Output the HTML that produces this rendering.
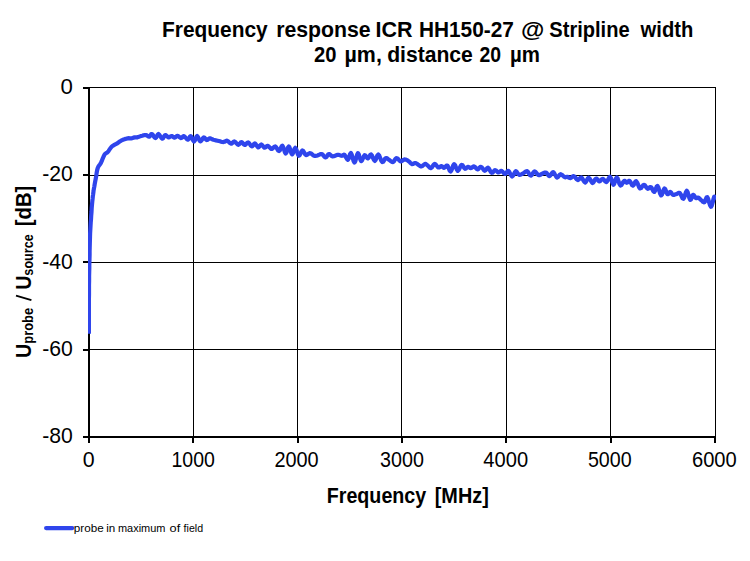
<!DOCTYPE html>
<html><head><meta charset="utf-8"><title>Frequency response</title>
<style>
html,body{margin:0;padding:0;background:#fff;}
body{width:750px;height:561px;overflow:hidden;position:relative;font-family:"Liberation Sans",sans-serif;color:#000;}
svg{position:absolute;left:0;top:0;display:block;}
text{font-family:"Liberation Sans",sans-serif;fill:#000;}
</style></head><body>
<svg width="750" height="561" viewBox="0 0 750 561">
<rect x="0" y="0" width="750" height="561" fill="#ffffff"/>
<g shape-rendering="crispEdges" fill="#000">
<!-- gridlines vertical -->
<rect x="193" y="87" width="1" height="350"/>
<rect x="297" y="87" width="1" height="350"/>
<rect x="401" y="87" width="1" height="350"/>
<rect x="506" y="87" width="1" height="350"/>
<rect x="610" y="87" width="1" height="350"/>
<rect x="715" y="87" width="1" height="351"/>
<!-- gridlines horizontal -->
<rect x="88" y="87" width="628" height="1"/>
<rect x="88" y="175" width="628" height="1"/>
<rect x="88" y="262" width="628" height="1"/>
<rect x="88" y="349" width="628" height="1"/>
<!-- axes -->
<rect x="88" y="87" width="2" height="356"/>
<rect x="83" y="436" width="633" height="2"/>
<!-- y ticks -->
<rect x="83" y="87" width="6" height="2"/>
<rect x="83" y="174" width="6" height="2"/>
<rect x="83" y="261" width="6" height="2"/>
<rect x="83" y="349" width="6" height="2"/>
<!-- x ticks -->
<rect x="192" y="436" width="2" height="7"/>
<rect x="297" y="436" width="2" height="7"/>
<rect x="401" y="436" width="2" height="7"/>
<rect x="505" y="436" width="2" height="7"/>
<rect x="610" y="436" width="2" height="7"/>
<rect x="714" y="436" width="2" height="7"/>
</g>
<!-- data series -->
<clipPath id="plotclip"><rect x="88" y="80" width="628.0" height="360"/></clipPath>
<path d="M88.9,333.8 L88.9,329.4 L88.9,323.2 L88.9,316.2 L88.9,310.0 L88.9,304.7 L88.9,299.6 L89.0,294.8 L89.0,290.0 L89.0,285.3 L89.1,280.6 L89.1,276.1 L89.2,272.0 L89.3,268.4 L89.3,265.1 L89.4,261.9 L89.5,258.6 L89.6,255.0 L89.6,251.3 L89.7,247.6 L89.8,244.0 L89.9,240.5 L90.0,237.0 L90.1,233.5 L90.3,230.0 L90.5,226.4 L90.7,222.9 L91.0,219.3 L91.2,215.7 L91.5,212.0 L91.7,208.2 L92.0,204.6 L92.3,201.4 L92.6,198.8 L92.8,196.5 L93.1,194.6 L93.3,192.9 L93.5,191.7 L93.5,190.8 L93.7,190.0 L93.9,188.6 L94.3,186.6 L94.7,184.1 L95.2,181.4 L95.7,178.8 L96.2,176.1 L96.6,173.2 L97.1,170.4 L97.7,168.1 L98.4,166.5 L99.3,165.3 L100.1,164.2 L101.0,162.8 L101.8,160.9 L102.7,158.6 L103.6,156.5 L104.4,154.8 L105.2,153.8 L106.0,153.3 L106.8,152.8 L107.7,152.1 L108.6,150.9 L109.6,149.4 L110.6,148.0 L111.7,146.7 L113.0,145.7 L114.3,144.9 L115.7,144.2 L117.1,143.4 L118.4,142.5 L119.7,141.6 L121.1,140.7 L122.4,140.0 L123.8,139.4 L125.2,138.9 L126.6,138.6 L127.8,138.3 L128.8,138.2 L129.6,138.3 L130.3,138.4 L131.1,138.4 L132.0,138.2 L132.8,137.9 L133.7,137.6 L134.5,137.4 L135.2,137.4 L135.8,137.4 L136.4,137.5 L137.1,137.4 L138.0,137.1 L139.0,136.8 L140.0,136.4 L141.1,136.0 L142.3,135.7 L143.5,135.3 L144.7,135.1 L145.8,135.0 L146.8,135.3 L147.6,136.0 L148.4,136.5 L149.2,136.7 L149.9,136.2 L150.5,135.2 L151.1,134.3 L151.8,134.0 L152.7,134.7 L153.6,136.1 L154.6,137.4 L155.5,138.0 L156.3,137.4 L157.0,136.0 L157.7,134.6 L158.5,134.0 L159.4,134.8 L160.4,136.3 L161.4,137.9 L162.3,138.7 L163.1,138.2 L163.8,137.0 L164.5,135.7 L165.2,135.0 L166.0,135.3 L166.9,136.1 L167.8,136.9 L168.6,137.4 L169.4,137.2 L170.1,136.8 L170.9,136.2 L171.6,136.0 L172.3,136.3 L173.1,136.8 L173.8,137.4 L174.6,137.6 L175.3,137.3 L176.1,136.7 L176.8,136.0 L177.6,135.8 L178.4,136.2 L179.3,137.0 L180.2,137.7 L181.0,138.1 L181.8,137.8 L182.5,137.0 L183.2,136.3 L184.0,136.1 L184.9,136.8 L185.9,138.0 L186.9,139.2 L187.8,139.7 L188.6,139.1 L189.3,137.8 L190.0,136.5 L190.7,136.1 L191.5,137.0 L192.3,138.9 L193.2,140.6 L194.0,141.4 L194.8,140.6 L195.6,138.8 L196.3,136.9 L197.1,136.1 L197.9,136.9 L198.7,138.7 L199.5,140.5 L200.3,141.4 L201.2,140.9 L202.1,139.6 L203.0,138.1 L203.8,137.4 L204.6,137.7 L205.3,138.6 L206.0,139.6 L206.7,140.1 L207.4,139.9 L208.1,139.3 L208.9,138.6 L209.7,138.3 L210.5,138.4 L211.4,138.8 L212.3,139.3 L213.4,139.7 L214.6,140.0 L216.0,140.4 L217.5,140.7 L218.8,141.0 L220.0,141.3 L221.2,141.7 L222.3,142.0 L223.4,142.1 L224.4,141.8 L225.3,141.3 L226.2,140.8 L227.1,140.7 L228.1,141.3 L229.1,142.3 L230.1,143.2 L231.1,143.7 L232.0,143.4 L232.8,142.5 L233.6,141.7 L234.4,141.4 L235.3,142.0 L236.3,143.1 L237.3,144.2 L238.2,144.8 L239.1,144.4 L239.9,143.5 L240.7,142.5 L241.5,142.1 L242.3,142.6 L243.1,143.5 L244.0,144.5 L244.8,145.0 L245.6,144.6 L246.5,143.6 L247.3,142.7 L248.2,142.4 L249.1,143.1 L250.0,144.4 L250.9,145.7 L251.8,146.4 L252.6,146.0 L253.4,144.9 L254.1,143.8 L254.9,143.4 L255.7,144.1 L256.6,145.4 L257.4,146.7 L258.2,147.4 L259.0,147.0 L259.8,146.0 L260.5,145.0 L261.3,144.5 L262.1,145.0 L262.9,146.0 L263.7,147.1 L264.5,147.7 L265.3,147.5 L266.1,146.7 L266.9,146.0 L267.8,145.8 L268.7,146.4 L269.7,147.4 L270.6,148.5 L271.6,149.0 L272.5,148.6 L273.5,147.6 L274.4,146.7 L275.3,146.4 L276.2,147.3 L277.2,148.9 L278.1,150.5 L279.0,151.1 L279.9,150.2 L280.7,148.2 L281.6,146.4 L282.4,145.7 L283.2,147.1 L284.1,149.7 L284.9,152.3 L285.7,153.5 L286.5,152.4 L287.2,149.9 L288.0,147.5 L288.8,146.4 L289.6,147.7 L290.4,150.4 L291.3,153.1 L292.1,154.4 L292.9,153.4 L293.7,151.1 L294.5,148.8 L295.3,147.8 L296.2,149.1 L297.0,151.7 L297.9,154.4 L298.8,155.8 L299.7,155.2 L300.6,153.3 L301.5,151.4 L302.4,150.4 L303.3,151.0 L304.2,152.5 L305.1,154.2 L306.0,155.1 L307.0,155.0 L307.9,154.2 L309.0,153.4 L310.0,153.1 L311.1,153.5 L312.2,154.4 L313.3,155.3 L314.4,155.8 L315.4,155.9 L316.5,155.7 L317.5,155.4 L318.4,155.1 L319.3,154.7 L320.1,154.3 L320.9,154.0 L321.8,154.0 L322.7,154.7 L323.7,155.9 L324.6,157.0 L325.5,157.5 L326.4,157.0 L327.2,155.8 L328.0,154.6 L328.9,154.0 L329.7,154.3 L330.6,155.1 L331.5,155.9 L332.5,156.4 L333.7,156.2 L335.1,155.7 L336.5,155.1 L337.8,154.8 L338.9,154.9 L340.0,155.3 L340.9,155.6 L341.8,155.8 L342.6,155.6 L343.2,155.1 L343.8,154.7 L344.5,154.8 L345.3,155.9 L346.2,157.7 L347.1,159.2 L347.9,159.8 L348.7,158.6 L349.4,156.2 L350.1,153.9 L350.9,153.1 L351.8,154.8 L352.7,158.0 L353.6,161.1 L354.5,162.5 L355.4,161.1 L356.2,157.9 L357.1,154.7 L357.9,153.1 L358.7,154.2 L359.5,156.9 L360.4,159.7 L361.2,161.1 L362.0,160.4 L362.9,158.4 L363.8,156.3 L364.6,155.1 L365.4,155.4 L366.3,156.6 L367.1,157.9 L367.9,158.4 L368.7,157.7 L369.5,156.2 L370.3,154.8 L371.1,154.4 L372.0,155.6 L372.9,157.8 L373.9,159.9 L374.8,160.9 L375.7,159.9 L376.5,157.6 L377.4,155.4 L378.3,154.5 L379.3,155.7 L380.3,158.2 L381.3,160.7 L382.3,162.1 L383.2,161.8 L384.1,160.4 L384.9,158.9 L385.8,158.1 L386.7,158.2 L387.6,158.7 L388.5,159.5 L389.4,160.1 L390.3,160.7 L391.2,161.5 L392.1,162.0 L393.0,162.1 L393.9,161.4 L394.7,160.0 L395.6,158.7 L396.5,158.1 L397.5,158.5 L398.6,159.6 L399.7,160.8 L400.7,161.4 L401.7,161.2 L402.6,160.5 L403.6,159.8 L404.5,159.4 L405.4,159.5 L406.3,159.8 L407.2,160.2 L408.1,160.8 L409.1,161.6 L410.1,162.6 L411.1,163.5 L412.1,164.1 L413.0,164.0 L413.8,163.5 L414.7,163.1 L415.7,163.0 L416.9,163.7 L418.3,164.8 L419.8,165.9 L421.1,166.5 L422.2,166.1 L423.3,165.2 L424.4,164.2 L425.5,163.9 L426.8,164.7 L428.2,166.1 L429.6,167.5 L430.8,168.1 L431.9,167.5 L432.8,166.0 L433.7,164.6 L434.6,163.9 L435.6,164.4 L436.5,165.5 L437.5,166.8 L438.4,167.5 L439.2,167.4 L440.0,166.9 L440.8,166.3 L441.5,166.1 L442.2,166.4 L442.8,167.1 L443.5,167.7 L444.2,167.9 L444.9,167.4 L445.7,166.4 L446.5,165.6 L447.3,165.5 L448.1,166.7 L448.9,168.8 L449.7,170.7 L450.6,171.5 L451.5,170.3 L452.4,167.8 L453.3,165.3 L454.2,164.1 L455.1,165.1 L456.0,167.4 L456.9,169.7 L457.8,170.8 L458.7,170.0 L459.7,168.0 L460.7,165.9 L461.6,164.8 L462.5,165.2 L463.4,166.6 L464.3,168.0 L465.1,168.8 L465.8,168.6 L466.5,168.0 L467.2,167.2 L467.9,166.8 L468.7,167.0 L469.4,167.4 L470.2,167.9 L471.0,168.1 L471.8,167.8 L472.5,167.1 L473.3,166.6 L474.1,166.4 L475.0,167.0 L475.9,168.0 L476.8,168.9 L477.7,169.4 L478.5,169.0 L479.3,168.0 L480.1,167.1 L481.0,166.8 L481.9,167.5 L482.9,168.8 L483.9,170.1 L484.8,170.8 L485.6,170.3 L486.4,169.2 L487.2,168.1 L488.0,167.7 L488.9,168.6 L489.8,170.2 L490.8,171.9 L491.7,172.8 L492.6,172.6 L493.4,171.6 L494.3,170.6 L495.1,170.1 L495.9,170.4 L496.8,171.2 L497.6,172.1 L498.4,172.5 L499.2,172.3 L499.9,171.6 L500.6,171.0 L501.4,170.8 L502.3,171.4 L503.2,172.4 L504.2,173.4 L505.1,173.9 L505.9,173.4 L506.8,172.2 L507.6,171.1 L508.4,170.8 L509.3,171.9 L510.2,173.8 L511.2,175.6 L512.1,176.5 L513.0,175.7 L514.0,174.0 L514.9,172.2 L515.8,171.2 L516.6,171.6 L517.4,172.8 L518.2,174.0 L519.1,174.8 L520.1,174.8 L521.1,174.5 L522.2,173.9 L523.2,173.4 L524.2,172.7 L525.2,171.9 L526.2,171.3 L527.2,171.2 L528.1,172.1 L529.0,173.6 L529.9,175.0 L530.8,175.7 L531.7,175.1 L532.6,173.6 L533.6,172.1 L534.5,171.4 L535.5,171.9 L536.5,173.1 L537.5,174.4 L538.5,175.2 L539.4,175.2 L540.2,174.9 L541.0,174.4 L541.9,173.9 L542.9,173.4 L543.9,172.9 L544.9,172.5 L545.9,172.5 L546.8,173.2 L547.7,174.5 L548.6,175.6 L549.5,176.1 L550.4,175.4 L551.3,174.0 L552.3,172.6 L553.2,172.1 L554.1,173.0 L555.1,174.8 L556.1,176.5 L557.0,177.5 L557.9,177.1 L558.8,176.0 L559.7,174.8 L560.6,174.2 L561.6,174.6 L562.7,175.5 L563.8,176.5 L564.7,177.2 L565.5,177.3 L566.1,177.1 L566.7,176.9 L567.4,176.8 L568.1,177.1 L568.9,177.6 L569.6,178.0 L570.4,178.1 L571.2,177.7 L572.0,176.9 L572.9,176.3 L573.8,176.1 L574.8,176.8 L575.8,178.1 L576.8,179.4 L577.8,180.1 L578.7,179.7 L579.6,178.7 L580.5,177.7 L581.4,177.4 L582.3,178.4 L583.2,180.1 L584.2,181.7 L585.1,182.5 L586.0,181.8 L586.9,180.1 L587.8,178.4 L588.7,177.7 L589.6,178.5 L590.6,180.3 L591.6,182.1 L592.5,183.0 L593.4,182.4 L594.3,180.9 L595.2,179.3 L596.1,178.5 L596.9,178.8 L597.8,179.8 L598.6,180.9 L599.4,181.4 L600.2,181.0 L601.1,180.1 L601.9,179.2 L602.8,178.8 L603.7,179.4 L604.6,180.6 L605.5,181.7 L606.4,182.1 L607.3,181.1 L608.3,179.2 L609.2,177.4 L610.1,176.8 L611.0,178.2 L611.8,180.9 L612.7,183.6 L613.5,184.8 L614.3,183.7 L615.1,181.1 L616.0,178.5 L616.8,177.4 L617.7,178.6 L618.6,181.3 L619.5,184.0 L620.4,185.5 L621.4,185.1 L622.4,183.5 L623.3,181.8 L624.2,180.8 L624.9,180.9 L625.6,181.6 L626.2,182.4 L626.8,182.8 L627.5,182.4 L628.1,181.6 L628.8,180.9 L629.5,180.8 L630.3,181.8 L631.2,183.4 L632.0,185.0 L632.9,185.7 L633.7,185.0 L634.5,183.3 L635.3,181.7 L636.2,181.2 L637.1,182.4 L638.1,184.7 L639.0,187.1 L640.0,188.4 L641.0,188.1 L642.0,186.8 L643.0,185.4 L644.0,184.8 L645.0,185.4 L645.9,186.7 L646.8,188.0 L647.7,188.8 L648.5,188.6 L649.3,187.8 L650.0,187.1 L650.8,187.0 L651.7,188.0 L652.5,189.7 L653.4,191.3 L654.3,191.9 L655.1,190.8 L655.9,188.6 L656.7,186.6 L657.5,185.9 L658.4,187.6 L659.3,190.7 L660.2,193.8 L661.1,195.4 L662.0,194.5 L662.8,192.2 L663.7,189.7 L664.5,188.5 L665.3,189.2 L666.0,191.1 L666.7,193.0 L667.4,194.2 L668.1,194.1 L668.8,193.2 L669.5,192.3 L670.2,191.9 L670.9,192.3 L671.6,193.3 L672.3,194.2 L673.1,194.8 L673.9,194.9 L674.8,194.6 L675.6,194.3 L676.5,194.0 L677.3,193.6 L678.2,193.1 L679.0,192.9 L679.9,193.1 L680.8,194.4 L681.6,196.4 L682.5,198.2 L683.4,198.8 L684.3,197.4 L685.1,194.6 L686.0,191.9 L686.8,190.8 L687.7,192.2 L688.5,195.2 L689.4,198.2 L690.2,199.9 L691.0,199.4 L691.7,197.7 L692.4,195.8 L693.1,194.8 L693.8,195.1 L694.5,196.2 L695.2,197.4 L695.9,198.2 L696.5,198.2 L697.0,197.9 L697.6,197.6 L698.2,197.6 L699.0,198.1 L699.9,198.9 L700.8,199.8 L701.6,200.5 L702.4,201.2 L703.1,201.9 L703.8,202.3 L704.5,202.2 L705.2,201.1 L705.8,199.1 L706.5,197.5 L707.3,197.1 L708.2,199.0 L709.1,202.3 L710.1,205.4 L711.0,206.8 L711.9,205.3 L712.8,202.0 L713.6,198.6 L714.2,196.5 L714.6,196.5 L715.0,197.6 L715.2,199.0 L715.3,199.9" fill="none" stroke="#2f45ec" stroke-width="4.2" stroke-linejoin="round" stroke-linecap="butt" clip-path="url(#plotclip)"/>
<!-- legend -->
<line x1="46.1" y1="528.1" x2="72.3" y2="528.1" stroke="#2f45ec" stroke-width="4.2" stroke-linecap="round"/>
<!-- text -->
<text x="162.06" y="37" font-size="21.8px" font-weight="bold" textLength="105.66" lengthAdjust="spacingAndGlyphs">Frequency</text>
<text x="276.14" y="37" font-size="21.8px" font-weight="bold" textLength="94.52" lengthAdjust="spacingAndGlyphs">response</text>
<text x="375.52" y="37" font-size="21.8px" font-weight="bold" textLength="37.02" lengthAdjust="spacingAndGlyphs">ICR</text>
<text x="418.97" y="37" font-size="21.8px" font-weight="bold" textLength="94.85" lengthAdjust="spacingAndGlyphs">HH150-27</text>
<text x="521.03" y="37" font-size="21.8px" font-weight="bold" textLength="23.36" lengthAdjust="spacingAndGlyphs">@</text>
<text x="549.31" y="37" font-size="21.8px" font-weight="bold" textLength="80.34" lengthAdjust="spacingAndGlyphs">Stripline</text>
<text x="640.60" y="37" font-size="21.8px" font-weight="bold" textLength="52.70" lengthAdjust="spacingAndGlyphs">width</text>
<text x="314.11" y="62" font-size="21.8px" font-weight="bold" textLength="22.42" lengthAdjust="spacingAndGlyphs">20</text>
<text x="344.53" y="62" font-size="21.8px" font-weight="bold" textLength="37.35" lengthAdjust="spacingAndGlyphs">µm,</text>
<text x="387.13" y="62" font-size="21.8px" font-weight="bold" textLength="85.74" lengthAdjust="spacingAndGlyphs">distance</text>
<text x="479.53" y="62" font-size="21.8px" font-weight="bold" textLength="21.56" lengthAdjust="spacingAndGlyphs">20</text>
<text x="509.99" y="62" font-size="21.8px" font-weight="bold" textLength="29.97" lengthAdjust="spacingAndGlyphs">µm</text>
<text x="326.75" y="503" font-size="21.8px" font-weight="bold" textLength="99.46" lengthAdjust="spacingAndGlyphs">Frequency</text>
<text x="434.76" y="503" font-size="21.8px" font-weight="bold" textLength="54.05" lengthAdjust="spacingAndGlyphs">[MHz]</text>
<text x="82.76" y="467" font-size="21.8px" textLength="11.89" lengthAdjust="spacingAndGlyphs">0</text>
<text x="171.43" y="467" font-size="21.8px" textLength="43.44" lengthAdjust="spacingAndGlyphs">1000</text>
<text x="274.39" y="467" font-size="21.8px" textLength="44.30" lengthAdjust="spacingAndGlyphs">2000</text>
<text x="380.00" y="467" font-size="21.8px" textLength="43.88" lengthAdjust="spacingAndGlyphs">3000</text>
<text x="483.34" y="467" font-size="21.8px" textLength="44.75" lengthAdjust="spacingAndGlyphs">4000</text>
<text x="587.90" y="467" font-size="21.8px" textLength="43.78" lengthAdjust="spacingAndGlyphs">5000</text>
<text x="691.98" y="467" font-size="21.8px" textLength="44.82" lengthAdjust="spacingAndGlyphs">6000</text>
<text x="60.64" y="94" font-size="21.8px" textLength="12.36" lengthAdjust="spacingAndGlyphs">0</text>
<text x="42.23" y="181" font-size="21.8px" textLength="30.62" lengthAdjust="spacingAndGlyphs">-20</text>
<text x="42.23" y="269" font-size="21.8px" textLength="30.62" lengthAdjust="spacingAndGlyphs">-40</text>
<text x="42.23" y="356" font-size="21.8px" textLength="30.62" lengthAdjust="spacingAndGlyphs">-60</text>
<text x="42.23" y="443" font-size="21.8px" textLength="30.62" lengthAdjust="spacingAndGlyphs">-80</text>
<text x="73.85" y="532" font-size="10.3px" textLength="29.84" lengthAdjust="spacingAndGlyphs">probe</text>
<text x="106.26" y="532" font-size="10.3px" textLength="9.03" lengthAdjust="spacingAndGlyphs">in</text>
<text x="118.00" y="532" font-size="10.3px" textLength="47.46" lengthAdjust="spacingAndGlyphs">maximum</text>
<text x="169.58" y="532" font-size="10.3px" textLength="10.63" lengthAdjust="spacingAndGlyphs">of</text>
<text x="183.64" y="532" font-size="10.3px" textLength="19.52" lengthAdjust="spacingAndGlyphs">field</text>
<text transform="translate(31.4,358.03) rotate(-90)" font-size="21.8px" font-weight="bold" textLength="14.26" lengthAdjust="spacingAndGlyphs">U</text>
<text transform="translate(32.9,343.69) rotate(-90)" font-size="14.5px" font-weight="bold" textLength="35.86" lengthAdjust="spacingAndGlyphs">probe</text>
<line x1="16" y1="295.7" x2="31.4" y2="300.1" stroke="#000" stroke-width="1.9"/>
<text transform="translate(31.4,289.83) rotate(-90)" font-size="21.8px" font-weight="bold" textLength="14.26" lengthAdjust="spacingAndGlyphs">U</text>
<text transform="translate(32.9,275.63) rotate(-90)" font-size="14.5px" font-weight="bold" textLength="41.32" lengthAdjust="spacingAndGlyphs">source</text>
<text transform="translate(31.4,226.16) rotate(-90)" font-size="21.8px" font-weight="bold" textLength="40.50" lengthAdjust="spacingAndGlyphs">[dB]</text>
</svg>
</body></html>
